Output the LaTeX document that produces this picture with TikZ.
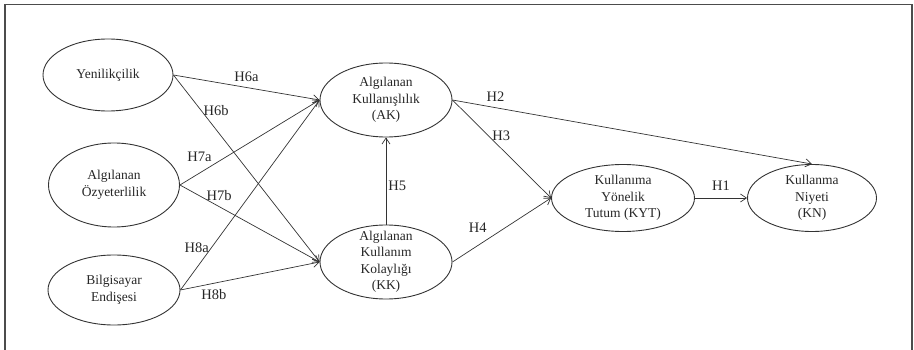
\documentclass[tikz,border=0pt]{standalone}
\usepackage{fontspec}
\setmainfont{Liberation Serif}
\usetikzlibrary{arrows.meta, shapes.geometric}

\begin{document}
\begin{tikzpicture}[
    x=1pt, y=-1pt,
    >={Straight Barb[length=6pt,width=8pt]},
    ell/.style    = {ellipse, draw=black!80, line width=0.9pt, inner sep=0pt},
    txt/.style    = {align=center, inner sep=0pt, text=black!85,
                     font=\fontsize{13.5}{16.5}\selectfont},
    hyp/.style    = {->, draw=black!80, line width=0.7pt},
    hlab/.style   = {font=\fontsize{14.5}{16}\selectfont, text=black!85, inner sep=2pt},
    frame/.style  = {draw=black!70, line width=1.8pt}
  ]
  \useasboundingbox (0,0) rectangle (914,350);

  % ── Frame (open at the bottom) ───────────────────────────────
  \draw[frame] (5,352) -- (5,4.5) -- (912,4.5) -- (912,352);

  % ── Column 1: antecedents ───────────────────────────────────
  \node[ell, minimum width=130pt, minimum height=72pt,
        label={[txt]center:Yenilikçilik}]                      (yen) at (108,75)  {};
  \node[ell, minimum width=131pt, minimum height=84pt,
        label={[txt]center:Algılanan\\Özyeterlilik}]           (ozy) at (114,185) {};
  \node[ell, minimum width=132pt, minimum height=70pt,
        label={[txt]center:Bilgisayar\\Endişesi}]              (bil) at (114,290) {};

  % ── Column 2: TAM beliefs ───────────────────────────────────
  \node[ell, minimum width=132pt, minimum height=74pt,
        label={[txt]center:Algılanan\\Kullanışlılık\\(AK)}]    (ak)  at (386,100) {};
  \node[ell, minimum width=132pt, minimum height=74pt,
        label={[txt]center:Algılanan\\Kullanım\\Kolaylığı\\(KK)}] (kk) at (386,262) {};

  % ── Column 3/4: attitude and intention ──────────────────────
  \node[ell, minimum width=143pt, minimum height=67pt,
        label={[txt]center:Kullanıma\\Yönelik\\Tutum (KYT)}]   (kyt) at (623,198) {};
  \node[ell, minimum width=129pt, minimum height=67pt,
        label={[txt]center:Kullanma\\Niyeti\\(KN)}]            (kn)  at (812,198) {};

  % ── Hypotheses ──────────────────────────────────────────────

  % External variables
  \draw[hyp] (yen.east) -- node[hlab, pos=0.5, above, yshift=4pt]{H6a} (ak.west);
  \draw[hyp] (yen.east) -- node[hlab, pos=0.19, right]{H6b} (kk.west);
  \draw[hyp] (ozy.east) -- node[hlab, pos=0.14, above, yshift=9pt]{H7a} (ak.west);
  \draw[hyp] (ozy.east) -- node[hlab, pos=0.28, above, yshift=4pt]{H7b} (kk.west);
  \draw[hyp] (bil.east) -- node[hlab, pos=0.22, left]{H8a} (ak.west);
  \draw[hyp] (bil.east) -- node[hlab, pos=0.24, below, yshift=-4pt]{H8b} (kk.west);

  % TAM core
  \draw[hyp] (kk.north) -- node[hlab, pos=0.45, right]{H5} (ak.south);
  \draw[hyp] (ak.east)  -- node[hlab, pos=0.12, above, yshift=4pt]{H2} (kn.north);
  \draw[hyp] (ak.east)  -- node[hlab, pos=0.36, right, xshift=2pt]{H3} (kyt.west);
  \draw[hyp] (kk.east)  -- node[hlab, pos=0.3, above left, xshift=7pt, yshift=8pt]{H4} (kyt.west);
  \draw[hyp] (kyt.east) -- node[hlab, above, yshift=5pt]{H1} (kn.west);

\end{tikzpicture}
\end{document}
